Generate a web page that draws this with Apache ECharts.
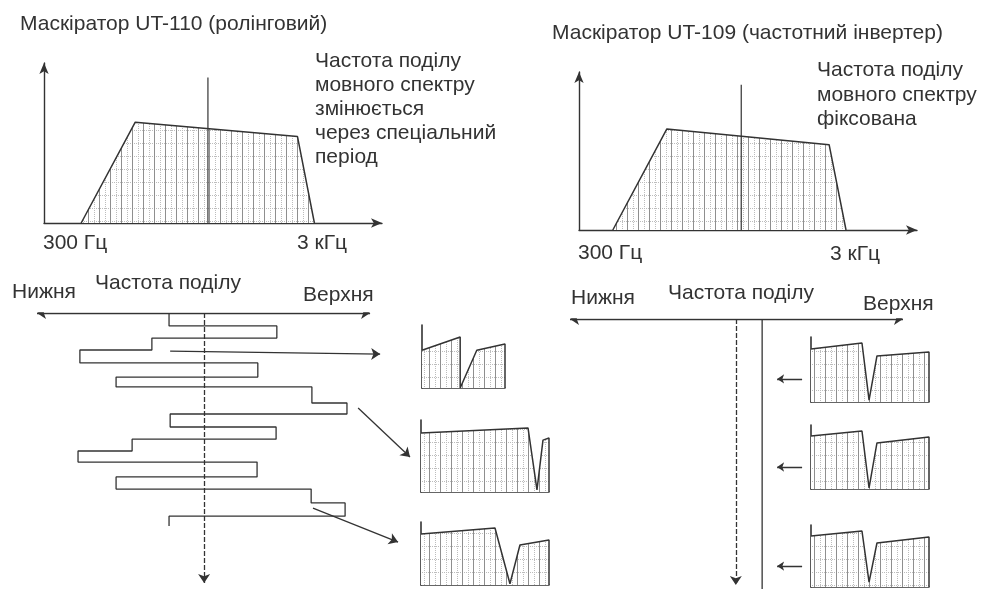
<!DOCTYPE html>
<html>
<head>
<meta charset="utf-8">
<script src="https://cdn.jsdelivr.net/npm/echarts@6/dist/echarts.min.js"></script>
<style>
html,body{margin:0;padding:0;background:#fff;}
#chart{width:989px;height:589px;}
</style>
</head>
<body>
<div id="chart"></div>
<script>
// ---------- DATA (units: 0..100 inside each panel) ----------
const titles = ['Маскіратор UT-110 (ролінговий)', 'Маскіратор UT-109 (частотний інвертер)'];
const notesLeft = ['Частота поділу', 'мовного спектру', 'змінюється', 'через спеціальний', 'період'];
const notesRight = ['Частота поділу', 'мовного спектру', 'фіксована'];
const freqTicks = ['300 Гц', '3 кГц'];
const bandLabels = ['Нижня', 'Частота поділу', 'Верхня'];

// big spectra (x: frequency position, y: level)
const bigLeftSpectrum = [[11, 0], [27, 63], [75, 54], [80, 0]];
const bigLeftDivider = [[48.5, 0], [48.5, 91]];
const bigRightSpectrum = [[10, 0], [26, 64], [74, 54], [79, 0]];
const bigRightDivider = [[48, 0], [48, 92]];

// rolling split frequency over time (x: frequency, y: time downward)
const rollingSplit = [
  [35.4, 0], [35.4, 4.7], [64.3, 4.7], [64.3, 9.1], [30.8, 9.1], [30.8, 13.4],
  [11.5, 13.4], [11.5, 18.1], [59.2, 18.1], [59.2, 23.2], [21.2, 23.2], [21.2, 26.8],
  [73.7, 26.8], [73.7, 32.6], [83.1, 32.6], [83.1, 36.6], [35.7, 36.6], [35.7, 41.3],
  [64.1, 41.3], [64.1, 45.7], [25.5, 45.7], [25.5, 50.0], [11.0, 50.0], [11.0, 54.0],
  [59.0, 54.0], [59.0, 59.4], [21.2, 59.4], [21.2, 63.8], [73.5, 63.8], [73.5, 68.8],
  [82.6, 68.8], [82.6, 73.6], [35.4, 73.6], [35.4, 77.2]
];
const leftFreqAxis = [[0, 0], [89.3, 0]];
const leftCentre = [[44.8, 0], [44.8, 97.8]];
const leftPointers = [
  [[35.7, 13.8], [92.0, 14.9]],
  [[86.1, 34.4], [100, 52.2]],
  [[74.0, 70.7], [96.8, 83.0]]
];

// fixed split frequency panel
const rightFreqAxis = [[0, 0], [100, 0]];
const rightCentre = [[49.8, 0], [49.8, 98.5]];
const rightSplit = [[57.7, 0], [57.7, 100]];
const rightPointers = [
  [[69.7, 22.2], [62.2, 22.2]],
  [[69.7, 54.8], [62.2, 54.8]],
  [[69.7, 91.5], [62.2, 91.5]]
];

// small resulting spectra
const smallLeft1 = [[0, 60], [46, 81], [46, 0], [66, 60], [100, 70], [100, 0]];
const smallLeft2 = [[0, 82], [83.6, 89], [90.6, 3], [95.3, 72], [100, 75], [100, 0]];
const smallLeft3 = [[0, 81], [57.8, 90.5], [69.5, 2], [77.3, 63.5], [100, 71.4], [100, 0]];
const smallRight1 = [[0, 81.5], [43.2, 90.8], [49.2, 3], [55.9, 70.8], [100, 76.9], [100, 0]];
const smallRight2 = [[0, 82.8], [43.2, 90.6], [49.2, 1.6], [55.9, 71.9], [100, 81.3], [100, 0]];
const smallRight3 = [[0, 82.3], [43.2, 90.3], [49.2, 8], [55.9, 71], [100, 80.6], [100, 0]];

// ---------- STYLE / LAYOUT ----------
const INK = '#333333';
const FONT = '21px "Liberation Sans", Arial, sans-serif';

function makeHatch() {
  const c = document.createElement('canvas');
  c.width = 44; c.height = 26;
  const g = c.getContext('2d');
  g.fillStyle = '#ffffff'; g.fillRect(0, 0, 44, 26);
  g.fillStyle = '#bdbdbd';
  for (let x = 0; x < 44; x += 2) { g.fillRect(x, 0, 1, 1); g.fillRect(x, 13, 1, 1); }
  for (let y = 0; y < 26; y += 2) { g.fillRect(6, y, 1, 1); g.fillRect(17, y, 1, 1); g.fillRect(28, y, 1, 1); g.fillRect(39, y, 1, 1); }
  g.fillStyle = '#8f8f8f';
  g.fillRect(0, 0, 1, 26); g.fillRect(11, 0, 1, 26); g.fillRect(22, 0, 1, 26); g.fillRect(33, 0, 1, 26);
  return c;
}
const hatch = { image: makeHatch(), repeat: 'repeat' };

const grids = [
  { left: 44, top: 63, width: 338, height: 160 },   // 0 big left
  { left: 579, top: 72, width: 338, height: 158 },  // 1 big right
  { left: 37, top: 313, width: 373, height: 276 },  // 2 rolling panel
  { left: 570, top: 319, width: 333, height: 270 }, // 3 fixed panel
  { left: 422, top: 325, width: 83, height: 63 },   // 4 small left 1
  { left: 421, top: 420, width: 128, height: 72 },  // 5 small left 2
  { left: 421, top: 522, width: 128, height: 63 },  // 6 small left 3
  { left: 811, top: 337, width: 118, height: 65 },  // 7 small right 1
  { left: 811, top: 425, width: 118, height: 64 },  // 8 small right 2
  { left: 811, top: 525, width: 118, height: 62 }   // 9 small right 3
];

const xAxes = [], yAxes = [];
grids.forEach((g, i) => {
  const panel = (i === 2 || i === 3);
  const big = (i === 0 || i === 1);
  const line = {
    show: !panel,
    symbol: big ? ['none', 'arrow'] : 'none',
    symbolSize: [7, 11],
    lineStyle: { color: INK, width: big ? 1.4 : 1.6 }
  };
  xAxes.push({ type: 'value', gridIndex: i, min: 0, max: 100, show: !panel,
    axisLine: line, axisTick: { show: false }, axisLabel: { show: false }, splitLine: { show: false } });
  yAxes.push({ type: 'value', gridIndex: i, min: 0, max: 100, show: !panel, inverse: panel,
    axisLine: line, axisTick: { show: false }, axisLabel: { show: false }, splitLine: { show: false } });
});

const series = [];
function area(i, data) {
  series.push({ type: 'line', xAxisIndex: i, yAxisIndex: i, data, symbol: 'none', silent: true,
    lineStyle: { color: INK, width: 1.5 }, areaStyle: { color: hatch, opacity: 1 }, z: 2 });
}
function poly(i, data, width, type) {
  series.push({ type: 'line', xAxisIndex: i, yAxisIndex: i, data, symbol: 'none', silent: true,
    lineStyle: { color: INK, width: width || 1.3, type: type || 'solid' }, z: 3 });
}
function arrows(i, list, sym, width, type, size) {
  series.push({ type: 'lines', coordinateSystem: 'cartesian2d', xAxisIndex: i, yAxisIndex: i, silent: true,
    symbol: sym, symbolSize: size || 9,
    lineStyle: { color: INK, width: width || 1.2, type: type || 'solid', opacity: 1 },
    data: list.map(c => ({ coords: c })), z: 4 });
}

area(0, bigLeftSpectrum); poly(0, bigLeftDivider, 1.2);
area(1, bigRightSpectrum); poly(1, bigRightDivider, 1.2);

poly(2, rollingSplit, 1.3);
arrows(2, [leftFreqAxis], ['arrow', 'arrow'], 1.3);
arrows(2, [leftCentre], ['none', 'arrow'], 1.3, [5, 2]);
arrows(2, leftPointers, ['none', 'arrow'], 1.3);

arrows(3, [rightFreqAxis], ['arrow', 'arrow'], 1.3);
arrows(3, [rightCentre], ['none', 'arrow'], 1.3, [5, 2]);
poly(3, rightSplit, 1.3);
arrows(3, rightPointers, ['none', 'arrow'], 1.3, 'solid', 7);

area(4, smallLeft1); area(5, smallLeft2); area(6, smallLeft3);
area(7, smallRight1); area(8, smallRight2); area(9, smallRight3);

function txt(text, x, y, lh) {
  return { type: 'text', x, y, silent: true,
    style: { text, fill: INK, font: FONT, verticalAlign: 'middle', lineHeight: lh || 24 } };
}
const graphic = [
  txt(titles[0], 20, 24),
  txt(titles[1], 552, 33),
  txt(notesLeft.join('\n'), 315, 109, 24),
  txt(notesRight.join('\n'), 817, 95, 24.5),
  txt(freqTicks[0], 43, 243), txt(freqTicks[1], 297, 243),
  txt(freqTicks[0], 578, 253), txt(freqTicks[1], 830, 254),
  txt(bandLabels[0], 12, 292), txt(bandLabels[1], 95, 283), txt(bandLabels[2], 303, 295),
  txt(bandLabels[0], 571, 298), txt(bandLabels[1], 668, 293), txt(bandLabels[2], 863, 304)
];

const chart = echarts.init(document.getElementById('chart'), null, { renderer: 'canvas' });
chart.setOption({
  backgroundColor: '#ffffff',
  animation: false,
  grid: grids,
  xAxis: xAxes,
  yAxis: yAxes,
  series,
  graphic
});
</script>
</body>
</html>
